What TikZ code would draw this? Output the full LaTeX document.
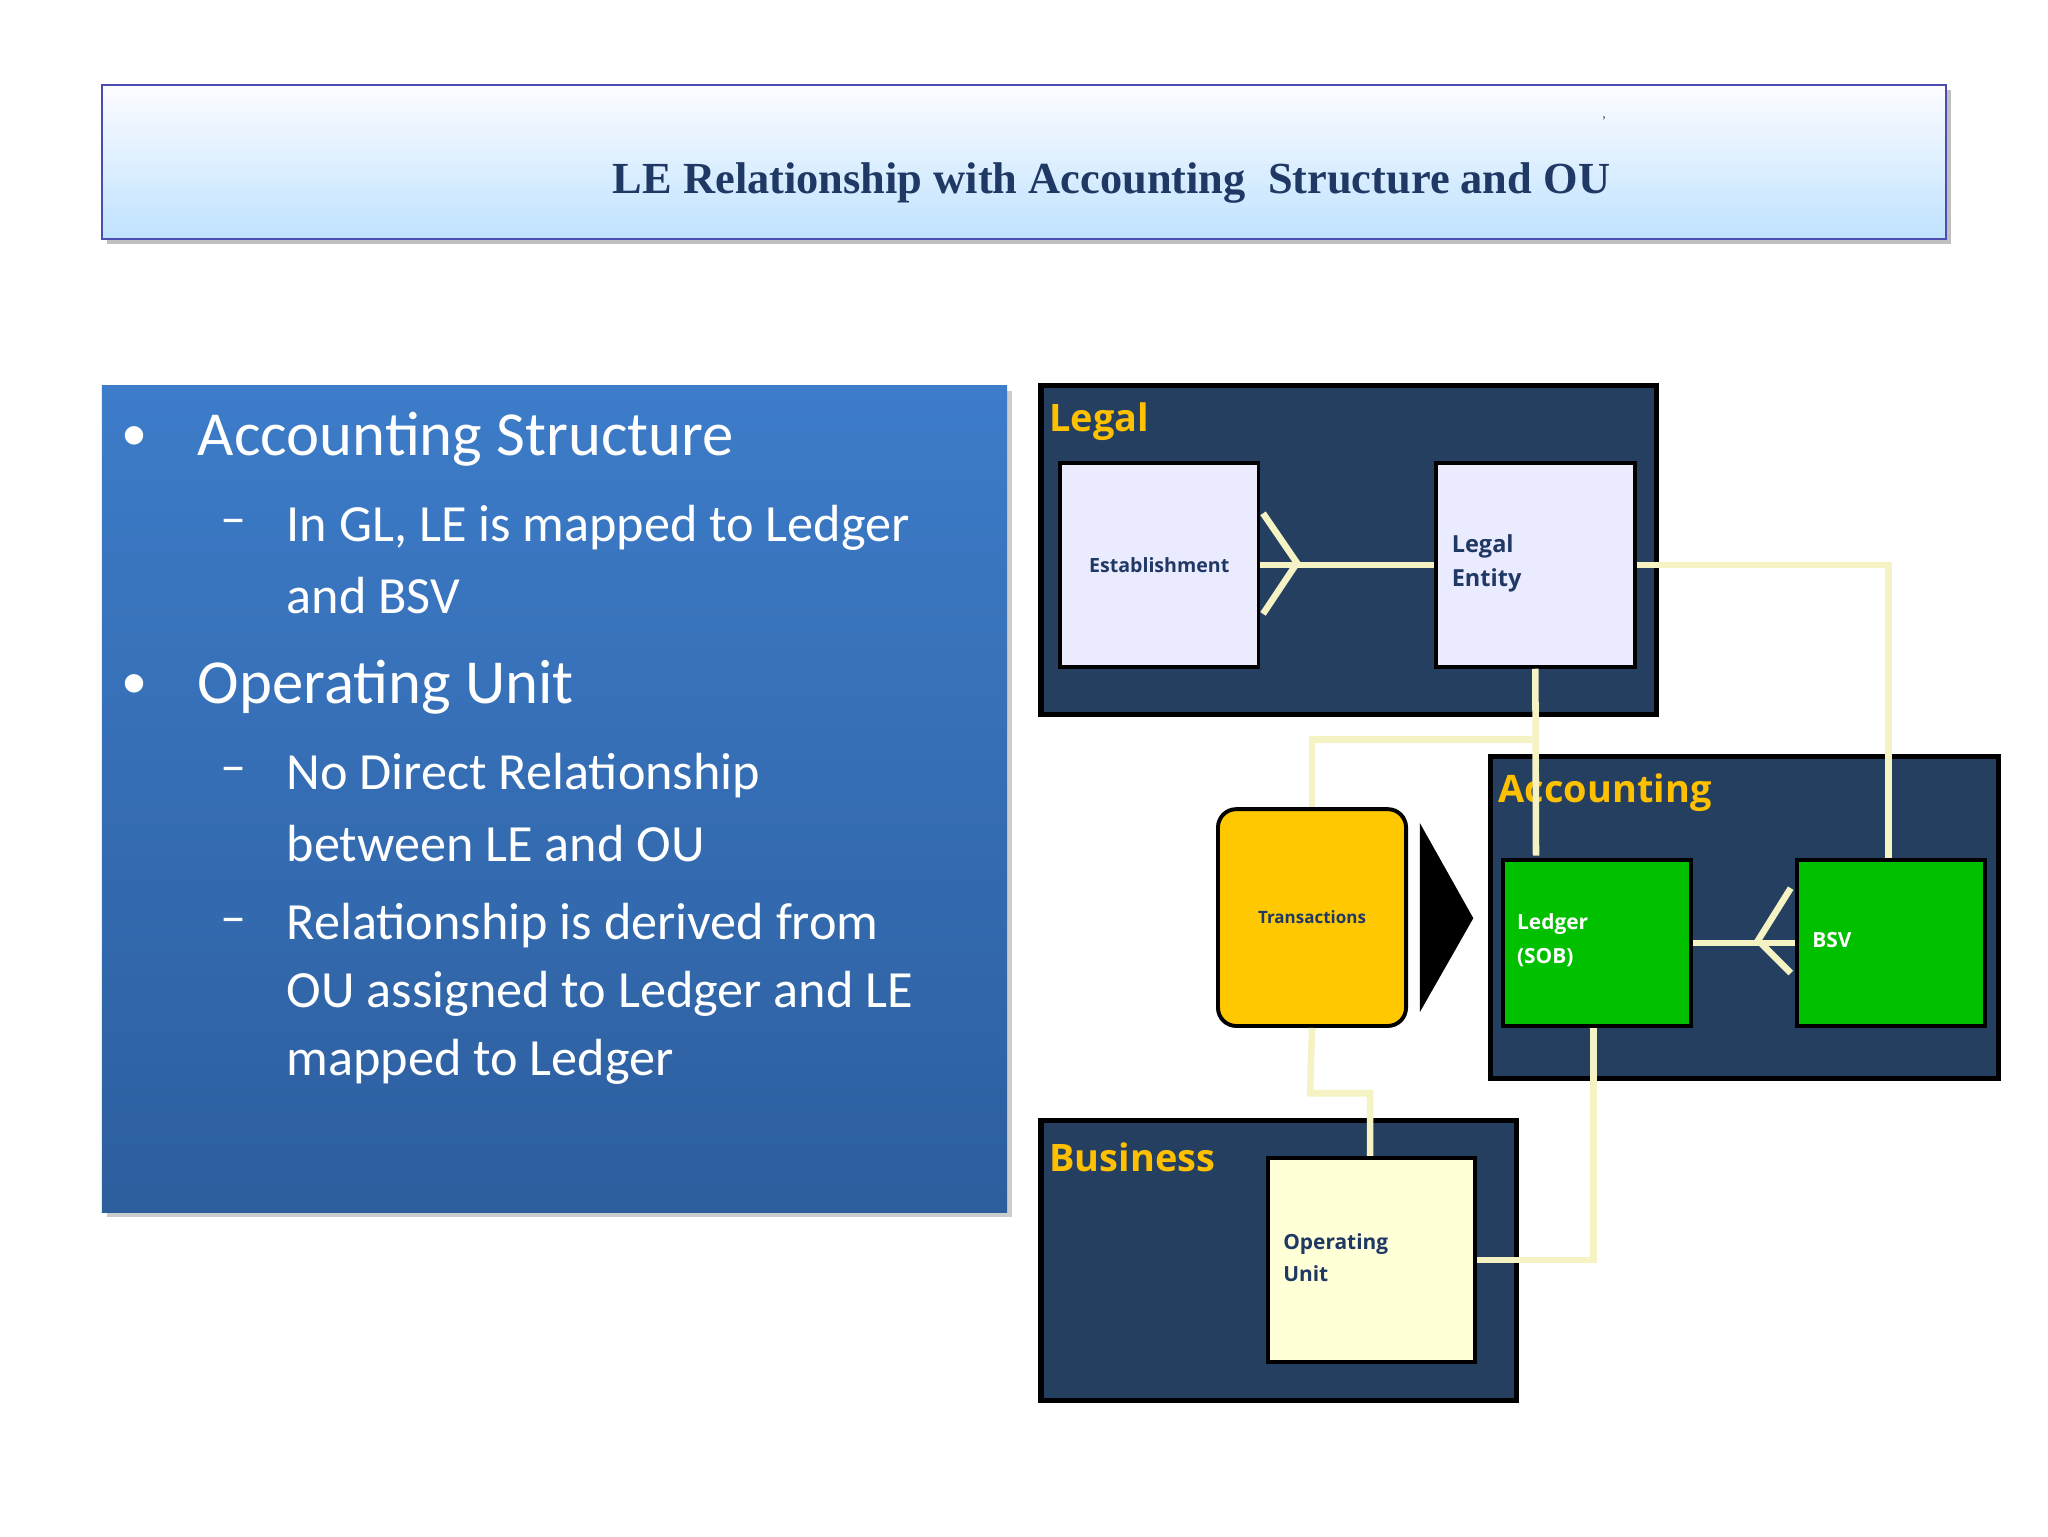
\documentclass[tikz,border=0pt]{standalone}
\usepackage{fontspec}
\setmainfont{Liberation Serif}
\newfontfamily\bodyf{Carlito}
\newfontfamily\diagf{Open Sans}
\usetikzlibrary{positioning}
\definecolor{navy}{HTML}{243F60}
\definecolor{conn}{HTML}{F5F3C4}
\definecolor{gold}{HTML}{FFC000}
\definecolor{ink}{HTML}{1F3864}
\definecolor{grn}{HTML}{00C000}
\tikzset{
 cont/.style={draw=black,line width=4pt,fill=navy},
 inbox/.style={draw=black,line width=3pt,anchor=north west},
 conline/.style={draw=conn,line width=5pt},
 clabel/.style={anchor=west,text=gold,font=\diagf\bfseries\fontsize{29}{34}\selectfont},
 ltxt/.style={anchor=west,text=white,font=\bodyf\fontsize{40}{48}\selectfont},
}
\begin{document}
\begin{tikzpicture}[x=1pt,y=-1pt]
\useasboundingbox (0,0) rectangle (1568,1176);
\fill[white] (0,0) rectangle (1568,1176);
% title
\fill[black!25] (82,69) rectangle (1494,187);
\shade[top color=white!90!blue!10,bottom color=blue!45!cyan!25!white,draw=blue!40!gray,line width=1.5pt] (78,65) rectangle (1490,183);
\node[text=ink,font=\bfseries\fontsize{34}{40}\selectfont] (title) at (851,140) {LE Relationship with Accounting\ \ Structure and OU};
\node[text=ink,font=\fontsize{10}{12}\selectfont] (tick) at (1228,93) {'};
% left panel
\fill[black!20] (82,299) rectangle (775,932);
\shade[top color=blue!55!cyan!50!black!10!white!0!blue!60!white!60!blue,top color={rgb,255:red,61;green,124;blue,201},bottom color={rgb,255:red,45;green,94;blue,158}] (78,295) rectangle (771,928);
\node[text=white,font=\bodyf\fontsize{40}{48}\selectfont] (b1) at (103,336) {•};
\node[ltxt,font=\bodyf\fontsize{48}{58}\selectfont] (t1) at (148,336) {Accounting Structure};
\node[ltxt] (d1) at (165,404) {–};
\node[ltxt] (t2) at (216,404) {In GL, LE is mapped to Ledger};
\node[ltxt] (t3) at (216,456) {and BSV};
\node[text=white,font=\bodyf\fontsize{40}{48}\selectfont] (b2) at (103,526) {•};
\node[ltxt,font=\bodyf\fontsize{48}{58}\selectfont] (t4) at (148,526) {Operating Unit};
\node[ltxt] (d2) at (165,594) {–};
\node[ltxt] (t5) at (216,594) {No Direct Relationship};
\node[ltxt] (t6) at (216,646) {between LE and OU};
\node[ltxt] (d3) at (165,709) {–};
\node[ltxt] (t7) at (216,709) {Relationship is derived from};
\node[ltxt] (t8) at (216,761) {OU assigned to Ledger and LE};
\node[ltxt] (t9) at (216,813) {mapped to Ledger};
% containers
\draw[cont] (797,295) rectangle (1268,547);
\draw[cont] (1141,579) rectangle (1530,826);
\draw[cont] (797,858) rectangle (1161,1072);
\node[clabel] (legal) at (800,323) {Legal};
\node[clabel] (acct) at (1144,607) {Accounting};
\node[clabel] (bus) at (800,886) {Business};
% nodes
\node[inbox,fill=blue!8!white,minimum width=152pt,minimum height=156pt] (est) at (810,353) {};
\node[text=ink,font=\diagf\bfseries\fontsize{15}{18}\selectfont] at (est.center) {Establishment};
\node[inbox,fill=blue!8!white,minimum width=152pt,minimum height=156pt] (le) at (1098,353) {};
\node[text=ink,anchor=west,align=left,font=\diagf\bfseries\fontsize{18}{26}\selectfont] at (1108,431) {Legal\\Entity};
\node[inbox,fill=grn,minimum width=144pt,minimum height=127pt] (led) at (1149,657) {};
\node[text=white,anchor=west,align=left,font=\diagf\bfseries\fontsize{16}{26}\selectfont] at (1158,720) {Ledger\\(SOB)};
\node[inbox,fill=grn,minimum width=144pt,minimum height=127pt] (bsv) at (1374,657) {};
\node[text=white,anchor=west,font=\diagf\bfseries\fontsize{16}{20}\selectfont] at (1384,720) {BSV};
\node[inbox,fill={rgb,255:red,255;green,200;blue,0},rounded corners=14pt,minimum width=144pt,minimum height=166pt] (tr) at (931,618) {};
\node[text=ink,font=\diagf\bfseries\fontsize{13}{16}\selectfont] at (tr.center) {Transactions};
\node[inbox,fill={rgb,255:red,255;green,255;blue,216},minimum width=159pt,minimum height=156pt] (ou) at (969,885) {};
\node[text=ink,anchor=west,align=left,font=\diagf\bfseries\fontsize{16}{24}\selectfont] at (979,963) {Operating\\Unit};
\fill[black] (1087,630) -- (1128,703) -- (1087,775) -- cycle;
% connectors
\draw[conline] (est.east) -- (le.west);
\draw[conline,line join=miter] (967,393) -- (993,431) -- (967,470);
\draw[conline] (le.east) -| (bsv.north -| 1446,0);
\draw[conline] (le.south) -- (1176,655);
\draw[conline] (1173,566) -| (tr.north);
\draw[conline] (led.east) -- (bsv.west);
\draw[conline,line join=miter] (1371,680) -- (1346,720) -- (1371,745);
\draw[conline] (tr.south) -- (1003,837) -| (ou.north -| 1049,0);
\draw[conline] (led.south -| 1220,0) |- (ou.east);
\end{tikzpicture}
\end{document}
